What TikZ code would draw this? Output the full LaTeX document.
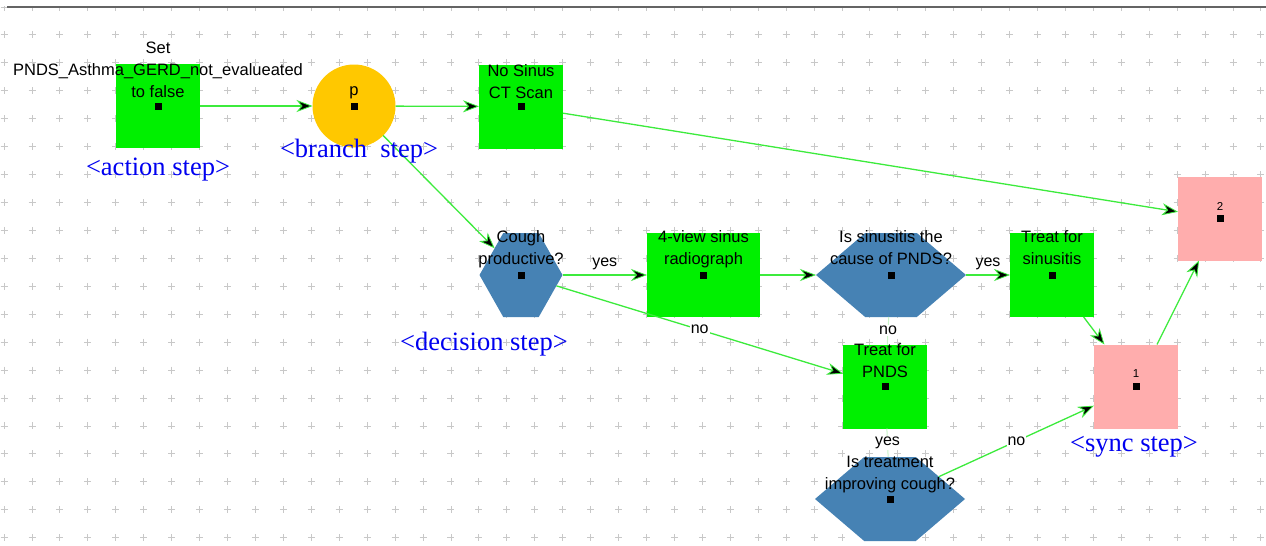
\documentclass[tikz,border=0pt]{standalone}
\usepackage{fontspec}
\setmainfont{Liberation Serif}
\newfontfamily\uisans{Liberation Sans}
\usetikzlibrary{arrows.meta,shapes.symbols,calc}

\definecolor{actgreen}{RGB}{0,240,0}
\definecolor{branchorange}{RGB}{255,200,0}
\definecolor{decblue}{RGB}{70,130,180}
\definecolor{syncpink}{RGB}{255,173,173}
\definecolor{flowgreen}{RGB}{60,235,60}
\definecolor{faintgreen}{RGB}{200,245,200}
\definecolor{gridgray}{RGB}{200,200,200}
\definecolor{rulegray}{RGB}{100,100,100}
\definecolor{tagblue}{RGB}{0,0,240}

\tikzset{
  stepbase/.style={inner sep=0pt, outer sep=0pt, draw=none},
  actionbox/.style={stepbase, rectangle, fill=actgreen, minimum width=84pt, minimum height=84pt},
  syncbox/.style={stepbase, rectangle, fill=syncpink, minimum width=84pt, minimum height=84pt},
  branchdot/.style={stepbase, circle, fill=branchorange, minimum size=83pt},
  decisionhex/.style={stepbase, signal, signal to=west and east, fill=decblue, minimum height=84pt},
  steptext/.style={font=\uisans\fontsize{16.5pt}{22pt}\selectfont, align=center, inner sep=0pt, anchor=south, text depth=0pt},
  synctext/.style={font=\uisans\fontsize{11.5pt}{14pt}\selectfont, inner sep=0pt, anchor=south, text depth=0pt},
  edgetag/.style={font=\uisans\fontsize{16pt}{19pt}\selectfont, fill=white, inner sep=1pt},
  tag/.style={font=\fontsize{26.5pt}{30pt}\selectfont, text=tagblue, inner sep=0pt, anchor=base},
  flow/.style={draw=flowgreen, line width=1.3pt, -{Stealth[length=16pt,width=12pt,inset=5pt,fill=black,line width=0.8pt]}},
  faintflow/.style={draw=faintgreen, line width=1pt},
  gridmark/.style={draw=gridgray, line width=0.9pt},
}

\begin{document}
\begin{tikzpicture}[x=1pt,y=-1pt]
\fill[white] (0,0) rectangle (1266,546);
\useasboundingbox (0,0) rectangle (1266,546);

% canvas grid of small crosses
\foreach \i in {0,...,45}{
  \foreach \j in {0,...,19}{
    \draw[gridmark] ({4.07+27.93*\i-3.5},{7+27.93*\j}) -- ++(7,0)
                    ({4.07+27.93*\i},{7+27.93*\j-3.5}) -- ++(0,7);
  }
}
\fill[white] (0,0) rectangle (1266,6);
\draw[line width=2pt, draw=rulegray] (7,7) -- (1266,7);

% steps
\node[actionbox] (act) at (158,106) {};
\node[branchdot] (br) at (354,106) {};
\node[actionbox] (ct) at (521,106.5) {};
\node[syncbox] (s2) at (1220,218.5) {};
\node[decisionhex, minimum width=83pt, signal pointer angle=121] (cough) at (521,275) {};
\node[actionbox, minimum width=113pt] (radio) at (703.5,275) {};
\node[decisionhex, minimum width=150pt, signal pointer angle=81] (sinus) at (891,275) {};
\node[actionbox] (tsin) at (1052,275) {};
\node[actionbox] (tpnds) at (885,386.5) {};
\node[syncbox] (s1) at (1136,386.5) {};
\node[decisionhex, minimum width=150pt, signal pointer angle=81] (impr) at (890,499) {};

% centre marks
\foreach \n in {act,br,ct,s2,cough,radio,sinus,tsin,tpnds,s1,impr}
  \fill[black] ($(\n.center)+(-3.5,-3.5)$) rectangle ($(\n.center)+(3.5,3.5)$);

% connectors
\draw[flow] (act) -- (br);
\draw[flow] (br) -- (ct);
\draw[flow] (ct) -- (s2);
\draw[flow] (br) -- (cough);
\draw[flow] (cough) -- node[edgetag, fill=none, yshift=11pt] (yes1) {yes} (radio);
\draw[flow] (cough) -- node[edgetag] (no1) {no} (tpnds);
\draw[flow] (radio) -- (sinus);
\draw[flow] (sinus) -- node[edgetag, fill=none, yshift=11pt] (yes2) {yes} (tsin);
\draw[faintflow] (sinus) -- node[edgetag] (no2) {no} (tpnds);
\draw[faintflow] (tpnds) -- node[edgetag] (yes3) {yes} (impr);
\draw[flow] (impr) -- node[edgetag] (no3) {no} (s1);
\draw[flow] (tsin) -- (s1);
\draw[flow] (s1) -- (s2);

% step captions
\node[steptext] (act-t) at ($(act)+(0,-8)$) {Set\\PNDS\_Asthma\_GERD\_not\_evalueated\\to false};
\node[steptext] (br-t) at ($(br)+(0,-10)$) {p};
\node[steptext] (ct-t) at ($(ct)+(0,-8)$) {No Sinus\\CT Scan};
\node[synctext] (s2-t) at ($(s2)+(0,-8)$) {2};
\node[steptext] (cough-t) at ($(cough)+(0,-10)$) {Cough\\productive?};
\node[steptext] (radio-t) at ($(radio)+(0,-10)$) {4-view sinus\\radiograph};
\node[steptext] (sinus-t) at ($(sinus)+(0,-10)$) {Is sinusitis the\\cause of PNDS?};
\node[steptext] (tsin-t) at ($(tsin)+(0,-10)$) {Treat for\\sinusitis};
\node[steptext] (tpnds-t) at ($(tpnds)+(0,-9)$) {Treat for\\PNDS};
\node[synctext] (s1-t) at ($(s1)+(0,-9)$) {1};
\node[steptext] (impr-t) at ($(impr)+(0,-9)$) {Is treatment\\improving cough?};

% step kind tags
\node[tag] (tag-act) at (158,175) {\textless action step\textgreater};
\node[tag] (tag-br) at (359,157) {\textless branch\ \ step\textgreater};
\node[tag] (tag-dec) at (484,350) {\textless decision step\textgreater};
\node[tag] (tag-sync) at (1134,451) {\textless sync step\textgreater};
\end{tikzpicture}
\end{document}
